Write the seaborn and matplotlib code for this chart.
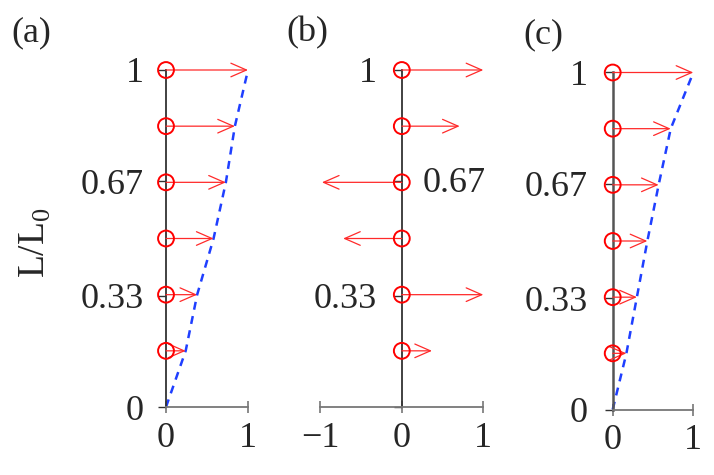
import numpy as np
import pandas as pd
import matplotlib
matplotlib.use("Agg")
import matplotlib.pyplot as plt
import seaborn as sns

sns.set_theme(style="white")
plt.rcParams["font.family"] = ["Liberation Serif", "DejaVu Serif"]
plt.rcParams["mathtext.fontset"] = "custom"
plt.rcParams["mathtext.rm"] = "Liberation Serif"

# ---- data ----
heights = [1/6, 2/6, 3/6, 4/6, 5/6, 1.0]
vals_a = [0.24, 0.38, 0.58, 0.73, 0.84, 1.0]
vals_b = [0.37, 1.0, -0.72, -0.98, 0.71, 1.0]
vals_c = [0.17, 0.30, 0.43, 0.57, 0.72, 1.0]
panel_labels = ["(a)", "(b)", "(c)"]
ytick_vals = [0, 0.33, 0.67, 1]
ytick_labels = ["0", "0.33", "0.67", "1"]
ytick_labels_b_left = ["", "0.33", "", "1"]
ytick_label_b_right = "0.67"
xticks_all = [[0, 1], [-1, 0, 1], [0, 1]]
xtick_labels = [["0", "1"], ["\u22121", "0", "1"], ["0", "1"]]

W, H = 714, 475
fig = plt.figure(figsize=(W / 100, H / 100), dpi=100)

FS = 26
RED = "#ff2a2a"
BLUE = "#1f3fff"

# pixel boxes: (x limits), (px of x0, px of x1), (py of y0, py of y1)
boxes = [
    ((0, 1), (166, 248), (407, 70)),
    ((-1, 1), (320.3, 483.3), (407, 70)),
    ((0, 1), (612.7, 693.3), (409.5, 72.5)),
]
label_pos = [(31, 33), (307, 33), (543, 35)]
ypads = [10, 12, 12]

all_vals = [vals_a, vals_b, vals_c]

for i, (vals, (xl, (px0, px1), (py0, py1))) in enumerate(zip(all_vals, boxes)):
    ax = fig.add_axes([px0 / W, (H - py0) / H, (px1 - px0) / W, (py0 - py1) / H])
    ax.set_xlim(*xl)
    ax.set_ylim(0, 1)
    ax.patch.set_alpha(0)
    for s in ["top", "right"]:
        ax.spines[s].set_visible(False)
    ax.spines["left"].set_position(("data", 0))
    ax.spines["left"].set_bounds(0, 1)
    ax.spines["left"].set_color("#333333" if i != 2 else "#555555")
    ax.spines["left"].set_linewidth(1.3 if i != 2 else 1.8)
    ax.spines["bottom"].set_color("#777777")
    ax.spines["bottom"].set_linewidth(1.3)
    ax.spines["bottom"].set_bounds(*xl)

    ax.set_xticks(xticks_all[i])
    ax.set_xticklabels(xtick_labels[i], fontsize=FS)
    ax.tick_params(axis="x", direction="inout", length=9, width=1.2,
                   color="#777777", pad=6, bottom=True)
    ax.set_yticks(ytick_vals)
    ax.tick_params(axis="y", direction="out", length=6, width=1.0,
                   color="#333333", left=True, pad=ypads[i])

    if i == 1:
        ax.set_yticklabels(ytick_labels_b_left, fontsize=FS)
        ax.annotate(ytick_label_b_right, xy=(0, ytick_vals[2]), xytext=(21, -2),
                    textcoords="offset pixels", ha="left", va="center",
                    fontsize=FS, annotation_clip=False)
    else:
        ax.set_yticklabels(ytick_labels, fontsize=FS)

    # dashed guide line through arrow tips
    if i != 1:
        df_line = pd.DataFrame({"x": [0] + vals, "y": [0] + heights})
        sns.lineplot(data=df_line, x="x", y="y", sort=False, ax=ax, color=BLUE,
                     lw=1.8, linestyle=(0, (3.2, 2.6)), clip_on=False, zorder=2)

    # arrows
    for v, h in zip(vals, heights):
        ax.annotate("", xy=(v, h), xytext=(0, h),
                    arrowprops=dict(arrowstyle="->,head_length=0.8,head_width=0.35",
                                    color=RED, lw=0.9, shrinkA=0, shrinkB=0,
                                    mutation_scale=14),
                    annotation_clip=False, zorder=3)

    # circles
    df_pts = pd.DataFrame({"x": [0] * len(heights), "y": heights})
    sns.scatterplot(data=df_pts, x="x", y="y", ax=ax, s=130, marker="o",
                    facecolor="none", edgecolor="#ff0000", linewidth=1.4,
                    clip_on=False, zorder=4)
    ax.set_xlabel("")
    ax.set_ylabel("")

    lx, ly = label_pos[i]
    fig.text(lx / W, 1 - ly / H, panel_labels[i], fontsize=FS,
             ha="center", va="center")

# y label
fig.text(35 / W, 1 - 243 / H, r"L/L$_{\mathregular{0}}$", fontsize=27,
         rotation=90, ha="center", va="center")

fig.savefig("out.png", dpi=100)
